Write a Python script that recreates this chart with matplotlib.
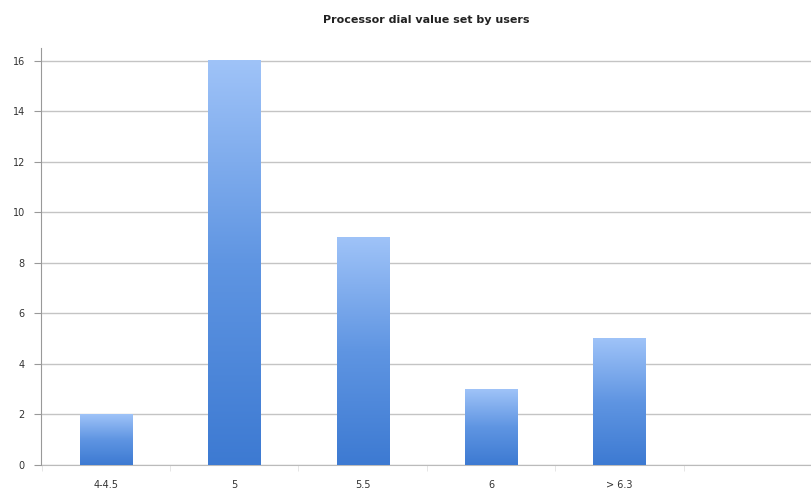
import matplotlib
matplotlib.use("Agg")
import matplotlib.pyplot as plt
import numpy as np
from matplotlib.colors import LinearSegmentedColormap

categories = ["4-4.5", "5", "5.5", "6", "> 6.3"]
counts = [2, 16, 9, 3, 5]
yticks = [0, 2, 4, 6, 8, 10, 12, 14, 16]

fig = plt.figure(figsize=(8.12, 4.94), dpi=100)
ax = fig.add_axes([41.5/812, 29/494, 770.5/812, 417/494])

cmap = LinearSegmentedColormap.from_list("g", ["#3d7ad2", "#5f95e2", "#9fc3f8"])
grad = np.linspace(0, 1, 256).reshape(-1, 1)
width = 0.405
x = np.arange(len(categories))
bars = ax.bar(x, counts, width=width, color="none", edgecolor="none", zorder=3)
for b in bars:
    x0, y0 = b.get_x(), b.get_y()
    w, h = b.get_width(), b.get_height()
    ax.imshow(grad, extent=(x0, x0 + w, y0, y0 + h), origin="lower",
              cmap=cmap, aspect="auto", zorder=3, interpolation="bilinear")

ax.set_xlim(-0.5, -0.5 + 770.5/129.8)
ax.set_ylim(0, 16.5)
ax.set_yticks(yticks)
ax.set_yticklabels([str(t) for t in yticks])
ax.set_xticks(x)
ax.set_xticklabels(categories)
ax.set_xticks(np.arange(-0.5, 6, 1), minor=True)
ax.tick_params(axis="x", which="major", length=0, pad=11, labelsize=7, labelcolor="#333333")
ax.tick_params(axis="x", which="minor", length=4, color="#e2e2e2")
ax.tick_params(axis="y", length=5, color="#999999", labelsize=7, labelcolor="#333333", pad=7)
ax.grid(axis="y", color="#c4c4c4", linewidth=1, zorder=0)
ax.set_axisbelow(True)
for s in ["top", "right"]:
    ax.spines[s].set_visible(False)
ax.spines["left"].set_color("#999999")
ax.spines["bottom"].set_color("#bbbbbb")

fig.text(426/812, 1 - 20/494, "Processor dial value set by users", ha="center", va="center",
         fontsize=8, fontweight="bold", color="#222222")

fig.savefig("out.png", dpi=100)
